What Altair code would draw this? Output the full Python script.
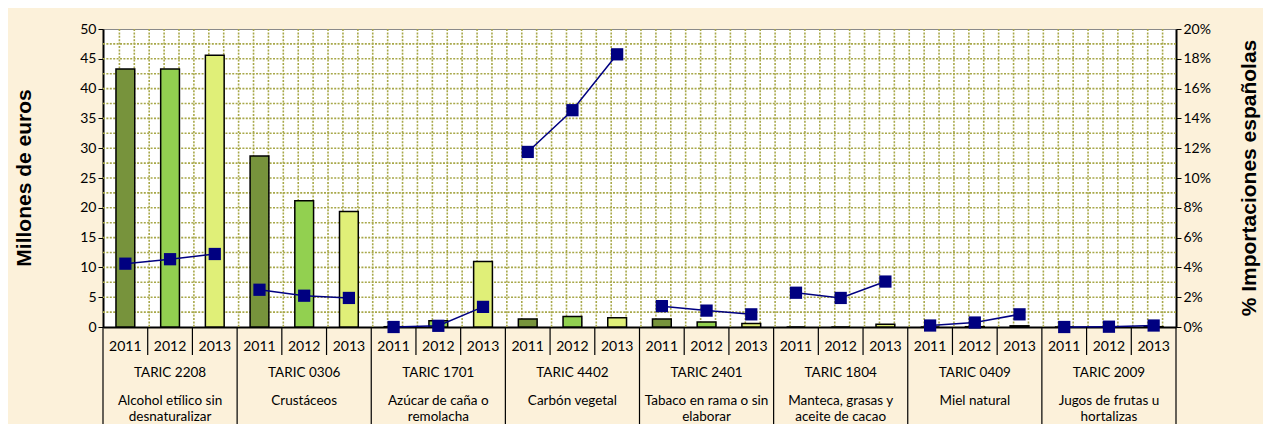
import altair as alt
import pandas as pd

# ---- data ----
taric = ["TARIC 2208", "TARIC 0306", "TARIC 1701", "TARIC 4402",
         "TARIC 2401", "TARIC 1804", "TARIC 0409", "TARIC 2009"]
descr = ["Alcohol etílico sin\ndesnaturalizar", "Crustáceos", "Azúcar de caña o\nremolacha",
         "Carbón vegetal", "Tabaco en rama o sin\nelaborar", "Manteca, grasas y\naceite de cacao",
         "Miel natural", "Jugos de frutas u\nhortalizas"]
years = ["2011", "2012", "2013"]
# Millones de euros (per group: 2011, 2012, 2013)
millones = [
    [43.3, 43.3, 45.6],
    [28.7, 21.2, 19.4],
    [0.05, 1.05, 11.0],
    [1.35, 1.75, 1.55],
    [1.35, 0.85, 0.6],
    [0.0, 0.0, 0.45],
    [0.0, 0.05, 0.2],
    [0.0, 0.0, 0.05],
]
# % importaciones españolas
pct = [
    [4.25, 4.55, 4.9],
    [2.5, 2.1, 1.95],
    [0.0, 0.08, 1.35],
    [11.75, 14.55, 18.3],
    [1.4, 1.1, 0.85],
    [2.3, 1.95, 3.05],
    [0.1, 0.3, 0.85],
    [0.0, 0.02, 0.1],
]
grid_values = [2.5 * k for k in range(1, 20)]
left_title = "Millones de euros"
right_title = "% Importaciones españolas"

W, H = 1073, 298
FONT = "Lato"
PI = 0.58                      # band padding (inner); outer = PI / 2
N = len(taric) * len(years)
STEP = W / N
EDGE = PI / 2 * STEP           # distance from a bar's start to its slot boundary

rows = []
for gi, (t, d) in enumerate(zip(taric, descr)):
    for yi, yr in enumerate(years):
        rows.append({"slot": f"{gi:02d}-{yr}", "taric": t, "descr": d, "year": yr,
                     "gi": gi, "mill": millones[gi][yi], "pct": pct[gi][yi] / 100})
df = pd.DataFrame(rows)
slots = list(df["slot"])
XSCALE = alt.Scale(domain=slots, paddingInner=PI, paddingOuter=PI / 2)
XAXIS = alt.Axis(title=None, orient="bottom", labelExpr="slice(datum.value, 3)",
                 ticks=False, domainColor="black", domainWidth=2, labelFontSize=14,
                 labelFont=FONT, labelColor="black", labelPadding=12, labelAngle=0, grid=False)


def xs(**kw):
    return alt.X("slot:N", sort=slots, scale=XSCALE, axis=XAXIS, **kw)


GRID = dict(color="#A8A84A", strokeWidth=1.6, strokeDash=[2, 1.4])
vgrid = []
for f in (0.367, 0.70, 1.033):
    src = df if f < 1 else df[df["slot"] != slots[-1]]
    vgrid.append(alt.Chart(src).mark_rule(xOffset=(f - PI / 2) * STEP, **GRID).encode(
        x=xs(bandPosition=0), y=alt.value(0), y2=alt.value(H)))
hgrid = alt.Chart(pd.DataFrame({"gv": grid_values})).mark_rule(**GRID).encode(
    y=alt.Y("gv:Q", scale=alt.Scale(domain=[0, 50], nice=False), axis=None),
    x=alt.value(0), x2=alt.value(W))

bars = alt.Chart(df).mark_bar(stroke="black", strokeWidth=1.5).encode(
    x=xs(),
    y=alt.Y("mill:Q", scale=alt.Scale(domain=[0, 50], nice=False),
            axis=alt.Axis(title=None, values=list(range(0, 51, 5)),
                          grid=False, orient="left",
                          labelFontSize=14, labelFont=FONT, labelColor="black",
                          tickColor="black", tickSize=5, domainColor="black", domainWidth=2)),
    color=alt.Color("year:N", scale=alt.Scale(domain=years, range=["#77933C", "#92D050", "#E0EF78"]),
                    legend=None),
)

YP = alt.Scale(domain=[0, 0.2], nice=False)
YPAXIS = alt.Axis(title=None, orient="right", format=".0%",
                  values=[i / 100 for i in range(0, 21, 2)], grid=False,
                  labelFontSize=14, labelFont=FONT, labelColor="black", tickColor="black",
                  tickSize=5, domainColor="black", domainWidth=2)
line = alt.Chart(df).mark_line(color="#000080", strokeWidth=1.5).encode(
    x=xs(), y=alt.Y("pct:Q", scale=YP, axis=YPAXIS), detail="taric:N",
)
points = alt.Chart(df).mark_square(color="#000080", size=150, opacity=1, clip=False).encode(
    x=xs(), y=alt.Y("pct:Q", scale=YP, axis=YPAXIS),
)
pct_layer = alt.layer(line, points)

# axis titles as text
titles = alt.Chart(pd.DataFrame({"t": [left_title, right_title], "side": ["l", "r"]}))
tl = titles.transform_filter("datum.side == 'l'").mark_text(
    angle=270, fontSize=21, font="Liberation Sans", fontWeight="bold", color="black",
    baseline="middle").encode(x=alt.value(-78), y=alt.value(H / 2), text="t:N")
tr = titles.transform_filter("datum.side == 'r'").mark_text(
    angle=270, fontSize=21, font="Liberation Sans", fontWeight="bold", color="black",
    baseline="middle").encode(x=alt.value(W + 74), y=alt.value(H / 2), text="t:N")

# table below the plot (lines at the slot boundaries)
TBL = dict(color="black", strokeWidth=1.2)
ysep = alt.Chart(df[df["year"] != "2011"]).mark_rule(xOffset=-EDGE, **TBL).encode(
    x=xs(bandPosition=0), y=alt.value(H), y2=alt.value(H + 28))
gsep = alt.Chart(df[df["year"] == "2011"]).mark_rule(xOffset=-EDGE, **TBL).encode(
    x=xs(bandPosition=0), y=alt.value(H), y2=alt.value(H + 110))
rborder = alt.Chart(df[df["slot"] == slots[-1]]).mark_rule(xOffset=EDGE, **TBL).encode(
    x=xs(bandPosition=1), y=alt.value(H), y2=alt.value(H + 110))
mid = df[df["year"] == "2012"]
taric_txt = alt.Chart(mid).mark_text(fontSize=13.5, font=FONT, color="black").encode(
    x=xs(bandPosition=0.5), y=alt.value(H + 46), text="taric:N")
descr_txt = alt.Chart(mid).mark_text(fontSize=13.5, font=FONT, color="black", lineBreak="\n",
                                     lineHeight=16, baseline="middle").encode(
    x=xs(bandPosition=0.5), y=alt.value(H + 74), text="descr:N")

chart = alt.layer(*vgrid, hgrid, bars, pct_layer, ysep, gsep, rborder, taric_txt, descr_txt,
                  tl, tr).resolve_scale(
    y="independent"
).properties(
    width=W, height=H, background="#FCF1DA",
    padding={"left": 95, "top": 21, "right": 87, "bottom": 97},
    autosize=alt.AutoSizeParams(type="none"),
).configure_view(fill="white", stroke="#8A8A8A", strokeWidth=1)

chart.save("out.html", embed_options={"renderer": "svg", "actions": False})
